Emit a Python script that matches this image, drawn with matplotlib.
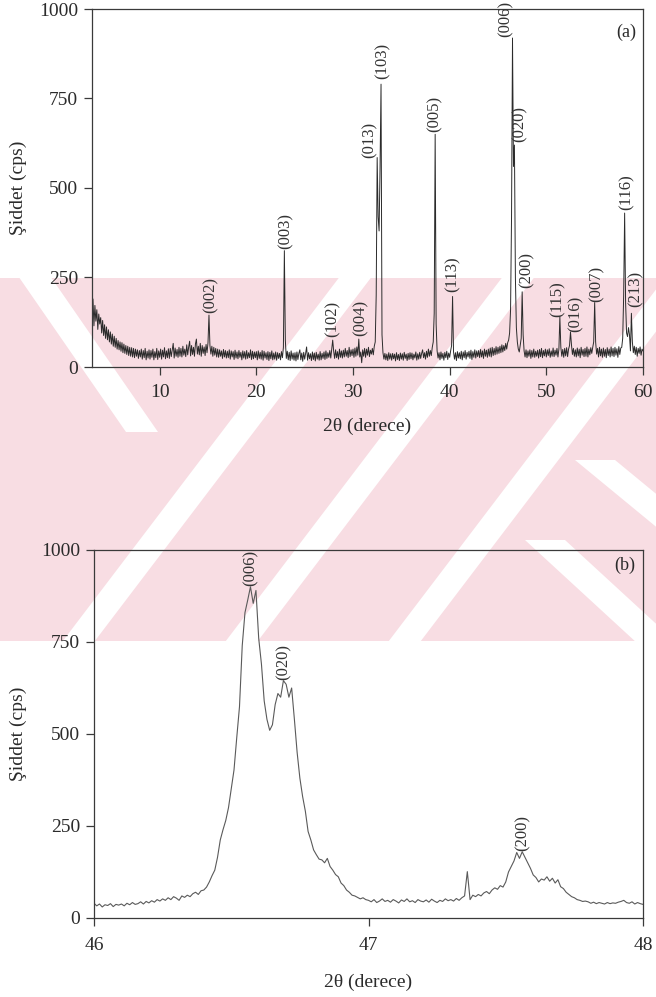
import matplotlib
matplotlib.use("Agg")
import matplotlib.pyplot as plt
from matplotlib.patches import Polygon, Rectangle
import numpy as np

# --- (a) full scan, 3-60 deg, 0.1 deg step; one row per degree -------------
scan_a_start = 3.0
cps_a_rows = [
    [150, 190, 115, 172, 128, 160, 105, 148, 120, 138],   # 3
    [95, 130, 88, 118, 80, 112, 76, 104, 70, 98],         # 4
    [64, 92, 58, 86, 55, 80, 50, 74, 48, 70],             # 5
    [44, 68, 40, 64, 38, 60, 35, 58, 32, 55],             # 6
    [30, 54, 28, 52, 26, 50, 30, 48, 24, 46],             # 7
    [28, 50, 22, 46, 26, 52, 20, 44, 25, 48],             # 8
    [22, 46, 27, 50, 20, 43, 26, 52, 21, 45],             # 9
    [27, 50, 22, 47, 28, 54, 23, 45, 26, 51],             # 10
    [24, 52, 29, 48, 66, 25, 53, 30, 49, 27],             # 11
    [55, 30, 52, 28, 58, 33, 50, 29, 62, 34],             # 12
    [56, 72, 31, 60, 35, 55, 30, 64, 78, 36],             # 13
    [58, 34, 66, 30, 60, 38, 56, 32, 63, 40],             # 14
    [68, 145, 60, 36, 58, 30, 55, 33, 52, 28],            # 15
    [50, 27, 48, 30, 45, 24, 49, 28, 46, 25],             # 16
    [44, 26, 48, 22, 45, 28, 43, 21, 47, 25],             # 17
    [42, 23, 46, 27, 41, 20, 45, 25, 43, 22],             # 18
    [46, 24, 40, 26, 48, 21, 44, 23, 42, 26],             # 19
    [43, 20, 45, 24, 41, 22, 46, 19, 44, 25],             # 20
    [40, 21, 43, 18, 41, 23, 45, 20, 39, 22],             # 21
    [42, 19, 40, 24, 38, 20, 43, 26, 55, 325],            # 22
    [75, 24, 44, 20, 41, 18, 45, 22, 39, 19],             # 23
    [40, 17, 42, 21, 38, 48, 20, 39, 16, 41],             # 24
    [22, 38, 56, 19, 40, 23, 37, 18, 42, 21],             # 25
    [39, 17, 41, 22, 36, 19, 43, 20, 38, 24],             # 26
    [42, 21, 45, 24, 40, 27, 46, 25, 50, 75],             # 27
    [44, 24, 48, 26, 43, 22, 50, 27, 45, 25],             # 28
    [47, 28, 52, 30, 46, 26, 55, 29, 48, 32],             # 29
    [50, 27, 53, 30, 56, 33, 78, 28, 42, 12],             # 30
    [48, 30, 52, 27, 50, 33, 55, 29, 47, 36],             # 31
    [52, 34, 58, 70, 200, 585, 420, 380, 560, 790],       # 32
    [90, 40, 22, 38, 20, 36, 18, 40, 22, 37],             # 33
    [19, 38, 23, 36, 17, 40, 21, 35, 18, 39],             # 34
    [22, 37, 19, 41, 24, 36, 18, 38, 21, 40],             # 35
    [23, 39, 20, 36, 25, 42, 19, 37, 22, 41],             # 36
    [24, 38, 48, 26, 40, 22, 44, 27, 50, 30],             # 37
    [46, 32, 55, 70, 150, 650, 120, 45, 25, 40],          # 38
    [20, 42, 24, 38, 19, 41, 26, 44, 21, 39],             # 39
    [27, 45, 60, 197, 42, 22, 40, 18, 43, 25],            # 40
    [40, 23, 44, 20, 42, 26, 46, 22, 41, 28],             # 41
    [44, 24, 47, 21, 43, 27, 48, 25, 45, 29],             # 42
    [46, 26, 49, 28, 45, 24, 50, 30, 47, 27],             # 43
    [50, 30, 53, 28, 55, 32, 52, 34, 57, 36],             # 44
    [55, 38, 58, 40, 62, 42, 60, 46, 66, 50],             # 45
    [68, 75, 95, 160, 420, 919, 560, 620, 250, 110],      # 46
    [70, 50, 42, 60, 80, 210, 90, 45, 28, 48],            # 47
    [26, 45, 30, 48, 24, 46, 28, 50, 27, 44],             # 48
    [30, 47, 25, 49, 29, 52, 26, 46, 31, 50],             # 49
    [28, 48, 32, 51, 27, 45, 30, 53, 29, 47],             # 50
    [33, 52, 28, 50, 140, 55, 30, 49, 27, 52],            # 51
    [31, 54, 29, 50, 60, 98, 62, 35, 52, 30],             # 52
    [48, 28, 53, 31, 50, 26, 55, 33, 49, 29],             # 53
    [52, 30, 56, 28, 50, 34, 54, 38, 55, 70],             # 54
    [180, 70, 36, 52, 28, 55, 31, 50, 27, 53],            # 55
    [30, 49, 26, 54, 32, 50, 28, 56, 31, 52],             # 56
    [29, 55, 33, 51, 27, 57, 35, 53, 55, 80],             # 57
    [200, 430, 180, 95, 85, 110, 90, 45, 150, 70],        # 58
    [40, 58, 35, 55, 30, 52, 38, 56, 33, 50],             # 59
]
cps_a_last = 45  # 60.0 deg

peaks_a = ["(002)", "(003)", "(102)", "(004)", "(013)", "(103)", "(005)", "(113)",
           "(006)", "(020)", "(200)", "(115)", "(016)", "(007)", "(116)", "(213)"]
peaks_a_pos = [15.1, 22.9, 27.9, 30.6, 32.5, 32.9, 38.5, 40.3,
               46.5, 46.7, 47.5, 51.4, 52.5, 55.0, 58.1, 58.8]

# --- (b) detail scan, 46-48 deg, 0.01 deg step; one row per 0.1 deg -------
scan_b_start = 46.0
cps_b_rows = [
    [40, 33, 38, 30, 36, 34, 39, 31, 37, 35],             # 46.0
    [38, 33, 40, 36, 42, 37, 39, 44, 38, 45],             # 46.1
    [41, 47, 43, 50, 46, 52, 48, 55, 50, 58],             # 46.2
    [54, 48, 60, 56, 62, 58, 66, 70, 64, 74],             # 46.3
    [76, 84, 98, 115, 130, 165, 212, 240, 265, 300],      # 46.4
    [350, 402, 490, 574, 740, 830, 864, 900, 855, 890],   # 46.5
    [760, 690, 590, 540, 510, 525, 580, 610, 600, 645],   # 46.6
    [635, 600, 625, 540, 450, 380, 330, 290, 235, 212],   # 46.7
    [185, 172, 160, 158, 150, 162, 140, 130, 118, 112],   # 46.8
    [95, 88, 76, 70, 62, 60, 56, 52, 55, 50],             # 46.9
    [48, 44, 50, 42, 46, 52, 45, 48, 43, 50],             # 47.0
    [46, 41, 49, 45, 52, 44, 47, 42, 50, 46],             # 47.1
    [44, 49, 43, 51, 46, 42, 48, 45, 52, 47],             # 47.2
    [50, 46, 53, 48, 55, 60, 126, 50, 62, 58],            # 47.3
    [64, 60, 68, 72, 66, 76, 82, 78, 88, 84],             # 47.4
    [98, 125, 140, 155, 178, 162, 180, 165, 150, 135],    # 47.5
    [117, 110, 98, 106, 103, 112, 100, 108, 95, 104],     # 47.6
    [85, 80, 70, 64, 58, 55, 50, 48, 45, 46],             # 47.7
    [44, 40, 43, 39, 42, 40, 38, 42, 39, 41],             # 47.8
    [40, 43, 45, 48, 42, 40, 44, 38, 42, 39],             # 47.9
]
cps_b_last = 37  # 48.00 deg

peaks_b = ["(006)", "(020)", "(200)"]
peaks_b_pos = [46.57, 46.69, 47.56]

# label nudges in pixels (dx, dy) so the hkl text sits beside crowded lines
nudge_a = [(2, 2), (1, 2), (0, 3), (2, 3), (-8, 0), (2, 5), (-1, 2), (0, 4),
           (-7, 1), (5, 3), (4, 4), (-2, 0), (5, 0), (2, 1), (2, 3), (4, 6)]
nudge_b = [(0, 1), (0, 1), (0, 1)]

W_PX, H_PX = 656, 997
INK = "#2b2b2b"
PINK = "#f8dde3"


def flatten(rows, last, start, step):
    for r in rows:
        assert len(r) == 10
    cps = np.array([v for r in rows for v in r] + [last], dtype=float)
    tt = np.round(start + step * np.arange(len(cps)), 3)
    return tt, cps


def px(x, y):
    """Page pixel (from top-left) to figure fraction."""
    return (x / W_PX, 1.0 - y / H_PX)


def add_watermark(fig):
    top, bot = 278, 641
    band = Rectangle(px(0, bot), 1.0, (bot - top) / H_PX, transform=fig.transFigure,
                     facecolor=PINK, edgecolor="none", zorder=-10)
    fig.patches.append(band)
    stripes = []
    # "/" stripes: centre x where they cross y=475, half width
    k = 0.76
    for cx, hw in [(205, 16), (368, 16), (531, 16)]:
        y0, y1 = top - 10, bot + 10
        xa, xb = cx + (475 - y0) * k, cx + (475 - y1) * k
        stripes.append([(xa - hw, y0), (xa + hw, y0), (xb + hw, y1), (xb - hw, y1)])
    # "\" stripes: two centre points and half width
    for (x0, y0), (x1, y1), hw in [((30, 270), (142, 432), 16),
                                   ((595, 460), (680, 530), 20),
                                   ((545, 540), (670, 655), 20)]:
        stripes.append([(x0 - hw, y0), (x0 + hw, y0), (x1 + hw, y1), (x1 - hw, y1)])
    for pts in stripes:
        poly = Polygon([px(x, y) for x, y in pts], closed=True, transform=fig.transFigure,
                       facecolor="white", edgecolor="none", zorder=-9)
        poly.set_clip_path(band)
        fig.patches.append(poly)


def style_axes(ax, xpad):
    ax.set_facecolor("none")
    for sp in ax.spines.values():
        sp.set_color("#3a3a3a")
        sp.set_linewidth(0.9)
    ax.tick_params(axis="both", direction="out", length=6, width=0.9, colors="#3a3a3a",
                   labelsize=14, labelcolor=INK)
    ax.tick_params(axis="x", pad=xpad)
    ax.tick_params(axis="y", pad=4)
    ax.set_ylim(0, 1000)
    ax.set_yticks([0, 250, 500, 750, 1000])


def label_peaks(ax, tt, cps, names, positions, nudges):
    for name, pos, (dx, dy) in zip(names, positions, nudges):
        i = int(np.argmin(np.abs(tt - pos)))
        ax.annotate(name, (tt[i], cps[i]), xytext=(dx, dy), textcoords="offset pixels",
                    rotation=90, ha="center", va="bottom", fontsize=12, color="#333333")


def main():
    plt.rcParams["font.family"] = ["Liberation Serif", "DejaVu Serif"]

    tt_a, cps_a = flatten(cps_a_rows, cps_a_last, scan_a_start, 0.1)
    tt_b, cps_b = flatten(cps_b_rows, cps_b_last, scan_b_start, 0.01)

    fig = plt.figure(figsize=(W_PX / 100, H_PX / 100), dpi=100)
    add_watermark(fig)

    ax_a = fig.add_axes([92 / W_PX, 1 - 367 / H_PX, 551 / W_PX, 358 / H_PX])
    ax_a.plot(tt_a, cps_a, color=INK, lw=0.7)
    ax_a.set_xlim(3, 60)
    ax_a.set_xticks([10, 20, 30, 40, 50, 60])
    style_axes(ax_a, xpad=6)
    label_peaks(ax_a, tt_a, cps_a, peaks_a, peaks_a_pos, nudge_a)
    ax_a.set_ylabel("Şiddet (cps)", fontsize=14, color=INK)
    ax_a.yaxis.set_label_coords(-0.118, 0.5)
    ax_a.set_xlabel("2θ (derece)", fontsize=14, color=INK)
    ax_a.xaxis.set_label_coords(0.5, -0.142)
    ax_a.text(0.969, 0.936, "(a)", transform=ax_a.transAxes, ha="center", va="center",
              fontsize=13, color=INK)

    ax_b = fig.add_axes([94 / W_PX, 1 - 918 / H_PX, 549 / W_PX, 368 / H_PX])
    ax_b.plot(tt_b, cps_b, color="#5a5a5a", lw=0.8)
    ax_b.set_xlim(46, 48)
    ax_b.set_xticks([46, 47, 48])
    style_axes(ax_b, xpad=7.5)
    label_peaks(ax_b, tt_b, cps_b, peaks_b, peaks_b_pos, nudge_b)
    ax_b.set_ylabel("Şiddet (cps)", fontsize=14, color=INK)
    ax_b.yaxis.set_label_coords(-0.122, 0.5)
    ax_b.set_xlabel("2θ (derece)", fontsize=14, color=INK)
    ax_b.xaxis.set_label_coords(0.5, -0.150)
    ax_b.text(0.967, 0.959, "(b)", transform=ax_b.transAxes, ha="center", va="center",
              fontsize=13, color=INK)

    fig.savefig("out.png", dpi=100)
    plt.close(fig)


if __name__ == "__main__":
    main()
